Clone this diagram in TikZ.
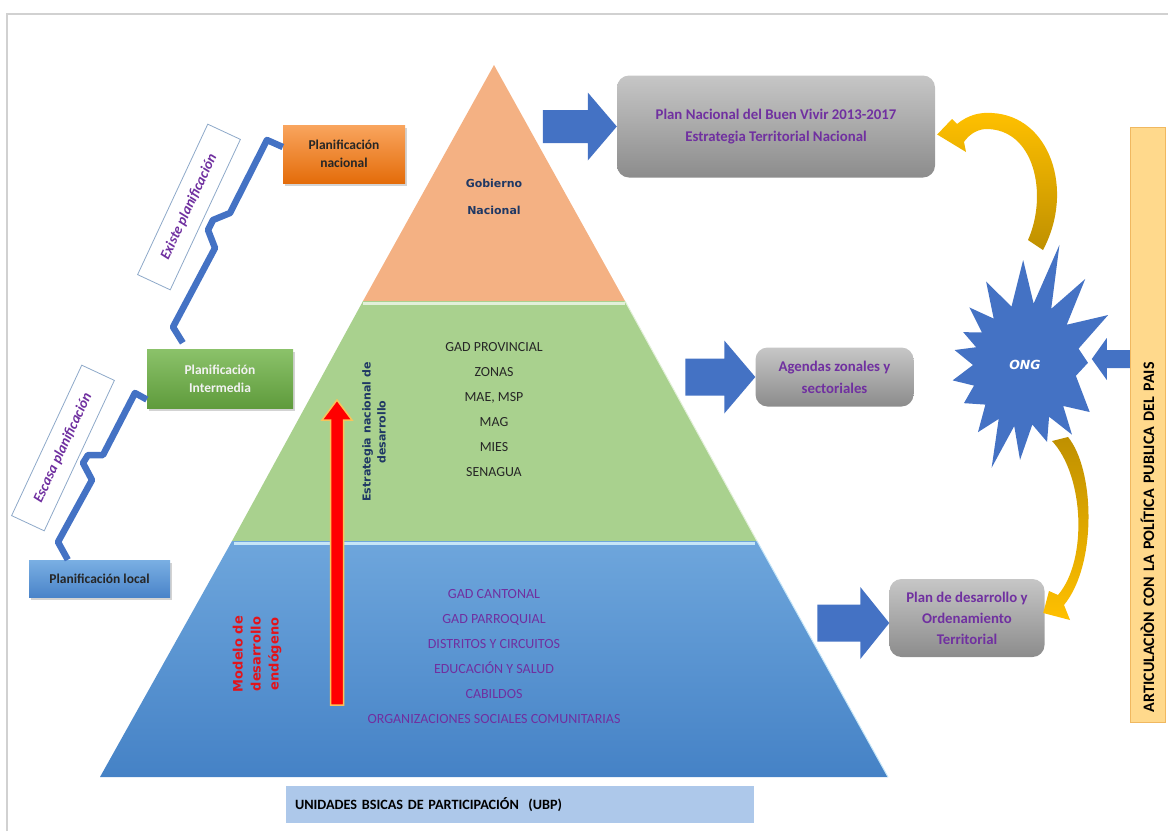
\documentclass[tikz,border=0pt]{standalone}
\usepackage{fontspec}
\setmainfont{Carlito}
\newfontfamily\verdfont{DejaVu Sans}
\usetikzlibrary{calc,shadows}

\definecolor{pyrorange}{HTML}{F4B183}
\definecolor{pyrgreen}{HTML}{A9D18E}
\definecolor{pyrbluetop}{HTML}{6EA6DC}
\definecolor{pyrbluebot}{HTML}{4582C6}
\definecolor{sepgreen}{HTML}{E2F0D9}
\definecolor{sepblue}{HTML}{C6E6F8}
\definecolor{arrowblue}{HTML}{4472C4}
\definecolor{txtpurple}{HTML}{7030A0}
\definecolor{txtnavy}{HTML}{1F3864}
\definecolor{modred}{HTML}{E2141B}
\definecolor{goldtop}{HTML}{FFC000}
\definecolor{goldbot}{HTML}{BF9000}
\definecolor{graytop}{HTML}{C6C6C6}
\definecolor{graybot}{HTML}{8C8C8C}
\definecolor{barfill}{HTML}{FFD98C}
\definecolor{barline}{HTML}{F0B860}
\definecolor{ubpfill}{HTML}{ADC8EA}
\definecolor{redline}{HTML}{F9C35A}
\definecolor{orgtop}{HTML}{F9A55E}
\definecolor{orgbot}{HTML}{E46C0A}
\definecolor{grntop}{HTML}{8BC26A}
\definecolor{grnbot}{HTML}{5F9B3C}
\definecolor{blutop}{HTML}{7AAFE3}
\definecolor{blubot}{HTML}{4A84C9}
\definecolor{noteline}{HTML}{8EA9C9}

\newcommand{\blockarrow}[6][]{%
  \fill[arrowblue,shift={(#2)},#1] (0,0) -- (-#4,-#6) -- (-#4,-#5) -- (-#3,-#5)
    -- (-#3,#5) -- (-#4,#5) -- (-#4,#6) -- cycle;}

\tikzset{
  planbox/.style={minimum width=122, minimum height=58, align=center,
    font=\fontsize{13.5}{18}\selectfont\bfseries,
    drop shadow={opacity=.35,shadow xshift=2pt,shadow yshift=-3pt}},
  graybox/.style={rounded corners=12, top color=graytop, bottom color=graybot,
    align=center, text=txtpurple, font=\fontsize{14.8}{22}\selectfont\bfseries},
  zig/.style={arrowblue, line width=6.5, line join=round},
  notebox/.style={draw=noteline, line width=.8, fill=white, rotate=65,
    minimum width=166, minimum height=36, text=txtpurple,
    font=\fontsize{14.5}{16}\selectfont\bfseries\itshape},
  layertext/.style={align=center, font=\fontsize{13.9}{25}\selectfont},
  redarrow/.style={fill=red, draw=redline, line width=1.5},
}

\begin{document}
\begin{tikzpicture}[x=1pt,y=-1pt]
\useasboundingbox (0,0) rectangle (1168,831);
\draw[black!18, line width=2] (7,831) -- (7,14) -- (1168,14);

% pyramid
\coordinate (top) at (494,65);
\coordinate (o1) at (363,301);
\coordinate (o2) at (625,301);
\coordinate (g1) at (232,541);
\coordinate (g2) at (757,541);
\coordinate (b1) at (100,777);
\coordinate (b2) at (888,777);
\fill[pyrorange] (top) -- (o2) -- (o1) -- cycle;
\fill[pyrgreen] (o1) -- (o2) -- (g2) -- (g1) -- cycle;
\shade[top color=pyrbluetop, bottom color=pyrbluebot] (g1) -- (g2) -- (b2) -- (b1) -- cycle;
\draw[sepgreen, line width=3] ([yshift=-2]o1) -- ([yshift=-2]o2);
\draw[sepblue, line width=3] ([xshift=2,yshift=-2]g1) -- ([xshift=-2,yshift=-2]g2);
\draw[sepgreen, line width=1] (o2) -- (g2);
\draw[sepblue, line width=1] (g2) -- (b2);

\node[font=\verdfont\bfseries\fontsize{11}{27}\selectfont, text=txtnavy, align=center] (gob) at (494,197) {Gobierno\\Nacional};
\node[layertext, text=black!85] (prov) at (494,409.5) {GAD PROVINCIAL\\ZONAS\\MAE, MSP\\MAG\\MIES\\SENAGUA};
\node[layertext, text=txtpurple, font=\fontsize{14}{25}\selectfont] (cant) at (494,656) {GAD CANTONAL\\GAD PARROQUIAL\\DISTRITOS Y CIRCUITOS\\EDUCACIÓN Y SALUD\\CABILDOS\\ORGANIZACIONES SOCIALES COMUNITARIAS};

% red arrow
\coordinate (rtip) at (337,400);
\filldraw[redarrow] (rtip) -- ++(15,20) -- ++(-8.5,0) -- ++(0,285) -- ++(-13,0) -- ++(0,-285) -- ++(-8.5,0) -- cycle;
\node[rotate=90, align=center, text=txtnavy, font=\verdfont\bfseries\fontsize{11}{15}\selectfont] (estr) at (374,432) {Estrategia nacional de\\desarrollo};
\node[rotate=90, align=center, text=modred, font=\verdfont\bfseries\fontsize{13}{18}\selectfont] (mod) at (257,654) {Modelo de\\desarrollo\\endógeno};

% planning levels
\node[planbox, top color=orgtop, bottom color=orgbot, text=black!85] (pnac) at (344,154) {Planificación\\nacional};
\node[planbox, top color=grntop, bottom color=grnbot, text=white!95!black, minimum width=146, minimum height=59] (pint) at (220,378.5) {Planificación\\Intermedia};
\node[planbox, top color=blutop, bottom color=blubot, text=black!85, minimum width=141, minimum height=37] (ploc) at (99.5,578.5) {Planificación local};
\draw[zig] ([yshift=7]pnac.west) -- (267,140) -- (230,213) -- (213,220) -- (208,230) -- (215,248) -- (173,327) -- ([xshift=36,yshift=6]pint.north west);
\draw[zig] ([yshift=-21]pint.west) -- (135,393) -- (103,455) -- (88,455) -- (83,463) -- (92,480) -- (58,542) -- ([xshift=39]ploc.north west);
\node[notebox] (existe) at (189,207) {Existe planificación};
\node[notebox] (escasa) at (63,448) {Escasa planificación};

% plans
\node[graybox, minimum width=318, minimum height=102] (plannac) at (776,126.5) {Plan Nacional del Buen Vivir 2013-2017\\Estrategia Territorial Nacional};
\node[graybox, minimum width=158, minimum height=59] (agendas) at (834.5,377) {Agendas zonales y\\sectoriales};
\node[graybox, minimum width=155, minimum height=78, font=\fontsize{14.8}{21}\selectfont\bfseries] (pdot) at (967,618) {Plan de desarrollo y\\Ordenamiento\\Territorial};
\blockarrow{plannac.west}{74}{29}{16.5}{34}
\blockarrow{agendas.west}{70}{31}{18.5}{36.5}
\blockarrow{[yshift=-5]pdot.west}{72}{29}{18.5}{36}

% ONG
\coordinate (ongc) at (1025,365);
\fill[arrowblue, shift={(ongc)}] plot coordinates {(329:97) (343:56) (358:63) (12:52) (36:80) (47:56) (56:84) (65:57) (74:80) (83:60) (93:95) (100:62) (108:108) (116:60) (125:82) (135:56) (148:72) (158:55) (168:74) (180:52) (192:72) (200:52) (208:70) (217:54) (226:80) (236:56) (245:92) (257:60) (269:105) (278:62) (286:125) (295:62) (305:105) (316:58)} -- cycle;
\node[text=white, font=\verdfont\bfseries\itshape\fontsize{12.5}{14}\selectfont] (ong) at (ongc) {ONG};

% gold arrows
\shade[top color=goldtop, bottom color=goldbot] (1028,240) .. controls (1048,195) and (1035,128) .. (985,129) .. controls (975,130) and (968,136) .. (964,142) -- (966,152) -- ([xshift=2,yshift=-8]plannac.east) -- (952,119) -- (957,124) .. controls (968,115) and (980,112) .. (992,113) .. controls (1050,116) and (1075,190) .. (1043,250) -- cycle;
\shade[top color=goldbot, bottom color=goldtop] (1052,441) .. controls (1084,475) and (1088,560) .. (1058,595) -- (1049,591) -- ([xshift=-1.5,yshift=5]pdot.east) -- (1070,620) -- (1064,605) .. controls (1097,565) and (1095,470) .. (1068,437) -- cycle;

% policy bar
\node[draw=barline, fill=barfill, rotate=90, minimum height=35, text width=575, inner xsep=10, align=left, font=\fontsize{16}{18}\selectfont\bfseries] (artbar) at (1147.5,424.5) {ARTICULACIÒN CON LA POLÍTICA PUBLICA DEL PAIS};
\blockarrow[xscale=-1]{[xshift=-38,yshift=65.5]artbar.north}{38}{15}{9}{21}

\node[fill=ubpfill, text width=450, inner xsep=9, minimum height=37, align=left, font=\fontsize{14.2}{16}\selectfont\bfseries] (ubp) at (520,804.5) {UNIDADES BSICAS DE PARTICIPACIÓN\ \ (UBP)};
\end{tikzpicture}
\end{document}
